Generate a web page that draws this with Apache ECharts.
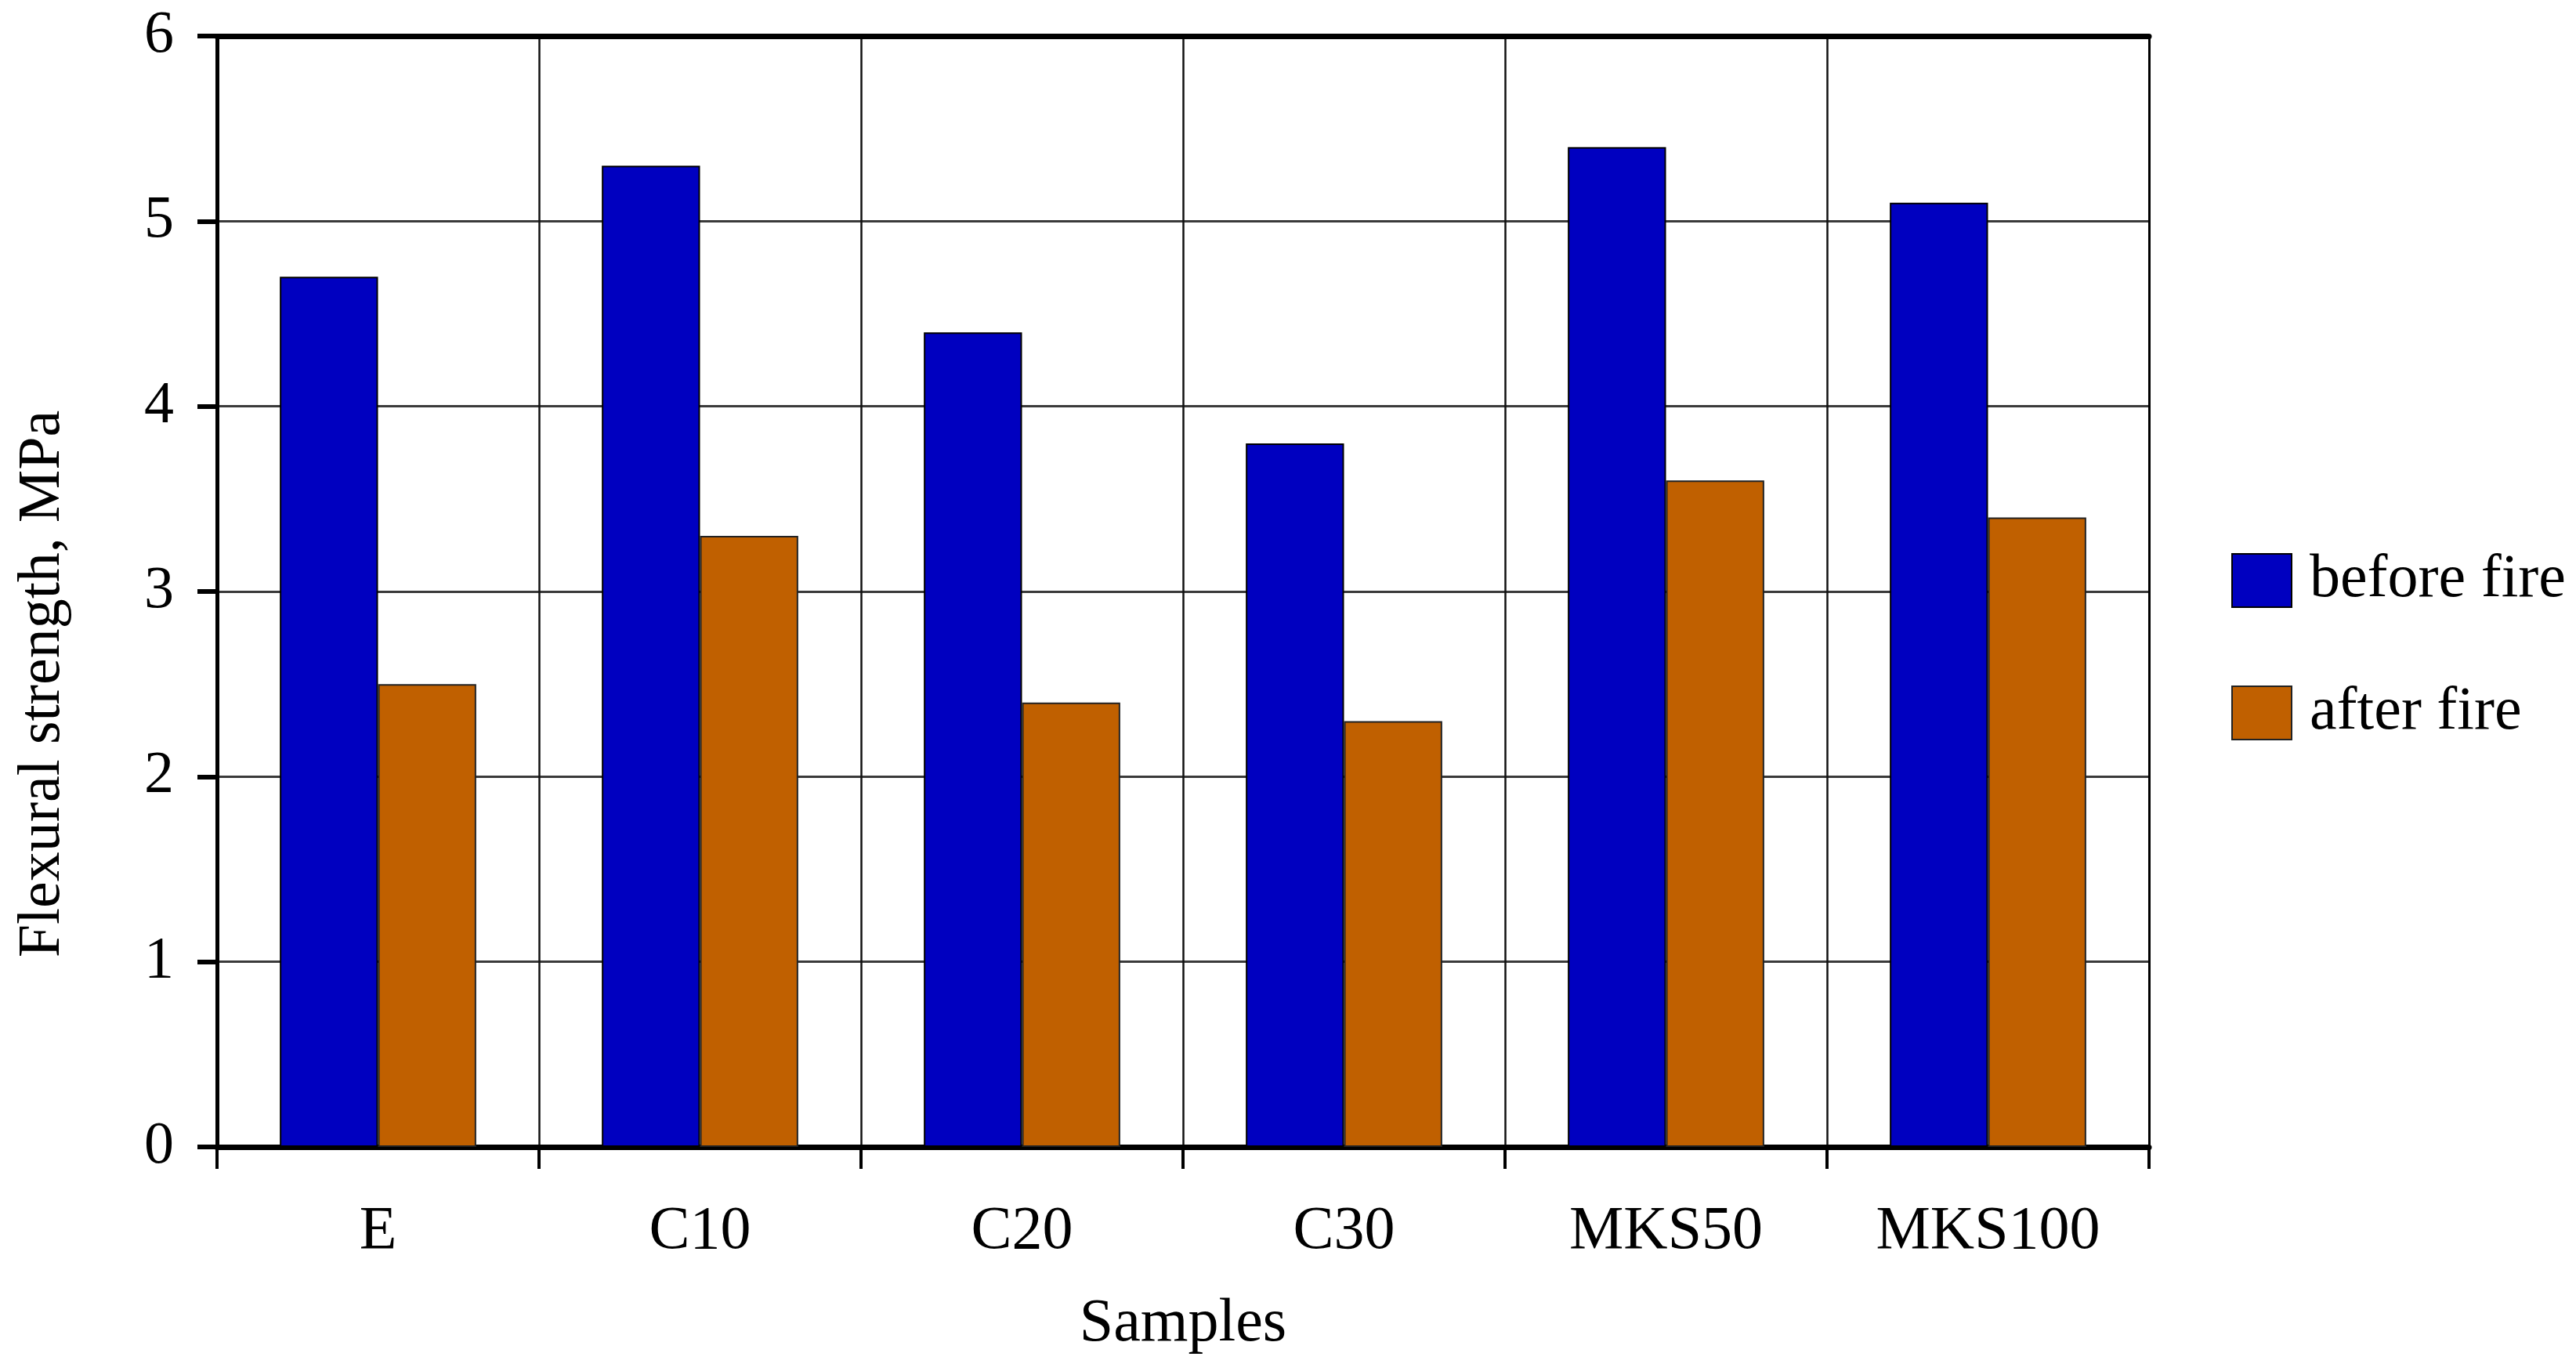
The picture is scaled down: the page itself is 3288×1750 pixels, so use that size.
<!DOCTYPE html>
<html>
<head>
<meta charset="utf-8">
<script src="https://cdn.jsdelivr.net/npm/echarts@6/dist/echarts.min.js"></script>
<style>
html,body{margin:0;padding:0;background:#fff;}
#chart{width:3288px;height:1750px;}
</style>
</head>
<body>
<div id="chart"></div>
<script>
const categories = ['E', 'C10', 'C20', 'C30', 'MKS50', 'MKS100'];
const beforeFire = [4.7, 5.3, 4.4, 3.8, 5.4, 5.1];
const afterFire = [2.5, 3.3, 2.4, 2.3, 3.6, 3.4];
const seriesNames = ['before fire', 'after fire'];
const yTitle = 'Flexural strength, MPa';
const xTitle = 'Samples';

const FONT = '"Liberation Serif", "Times New Roman", serif';
const chart = echarts.init(document.getElementById('chart'), null, {renderer: 'canvas'});

chart.setOption({
  backgroundColor: '#ffffff',
  animation: false,
  grid: {left: 277, right: 545, top: 46, bottom: 286, containLabel: false},
  legend: {
    orient: 'vertical',
    left: 2843, top: 697,
    itemWidth: 76, itemHeight: 68, itemGap: 91,
    icon: 'rect',
    data: seriesNames,
    textStyle: {fontFamily: FONT, fontSize: 78, color: '#000', padding: [0, 0, 0, 18]}
  },
  xAxis: [{
    type: 'category',
    data: categories,
    position: 'bottom',
    boundaryGap: true,
    axisLine: {show: true, onZero: false, lineStyle: {color: '#000', width: 7}},
    axisTick: {show: true, alignWithLabel: false, length: 28, lineStyle: {color: '#000', width: 4}},
    axisLabel: {fontFamily: FONT, fontSize: 78, color: '#000', margin: 70},
    splitLine: {show: true, lineStyle: {color: '#111', width: 2.5}},
    name: xTitle,
    nameLocation: 'middle',
    nameGap: 188,
    nameTextStyle: {fontFamily: FONT, fontSize: 78, color: '#000'}
  }, {
    type: 'category',
    data: categories,
    position: 'top',
    axisLine: {show: true, onZero: false, lineStyle: {color: '#000', width: 7}},
    axisTick: {show: false},
    axisLabel: {show: false},
    splitLine: {show: false}
  }],
  yAxis: [{
    type: 'value',
    min: 0, max: 6, interval: 1,
    position: 'left',
    axisLine: {show: true, onZero: false, lineStyle: {color: '#000', width: 5}},
    axisTick: {show: true, inside: false, length: 25, lineStyle: {color: '#000', width: 6}},
    axisLabel: {fontFamily: FONT, fontSize: 76, color: '#000', margin: 55},
    splitLine: {show: true, lineStyle: {color: '#3a3a3a', width: 3}}
  }, {
    type: 'value',
    min: 0, max: 6, interval: 1,
    position: 'right',
    axisLine: {show: true, onZero: false, lineStyle: {color: '#000', width: 3}},
    axisTick: {show: false},
    axisLabel: {show: false},
    splitLine: {show: false}
  }],
  graphic: [{
    type: 'text',
    x: 55, y: 873,
    rotation: Math.PI / 2,
    style: {
      text: yTitle,
      font: '76px ' + FONT,
      fill: '#000',
      align: 'center',
      verticalAlign: 'middle'
    }
  }],
  series: [{
    name: seriesNames[0],
    type: 'bar',
    data: beforeFire,
    barWidth: '30.5%',
    barGap: '0%',
    itemStyle: {color: '#0000c0', borderColor: '#000', borderWidth: 2}
  }, {
    name: seriesNames[1],
    type: 'bar',
    data: afterFire,
    barWidth: '30.5%',
    barGap: '0%',
    itemStyle: {color: '#c06000', borderColor: '#222', borderWidth: 2}
  }]
});
</script>
</body>
</html>
